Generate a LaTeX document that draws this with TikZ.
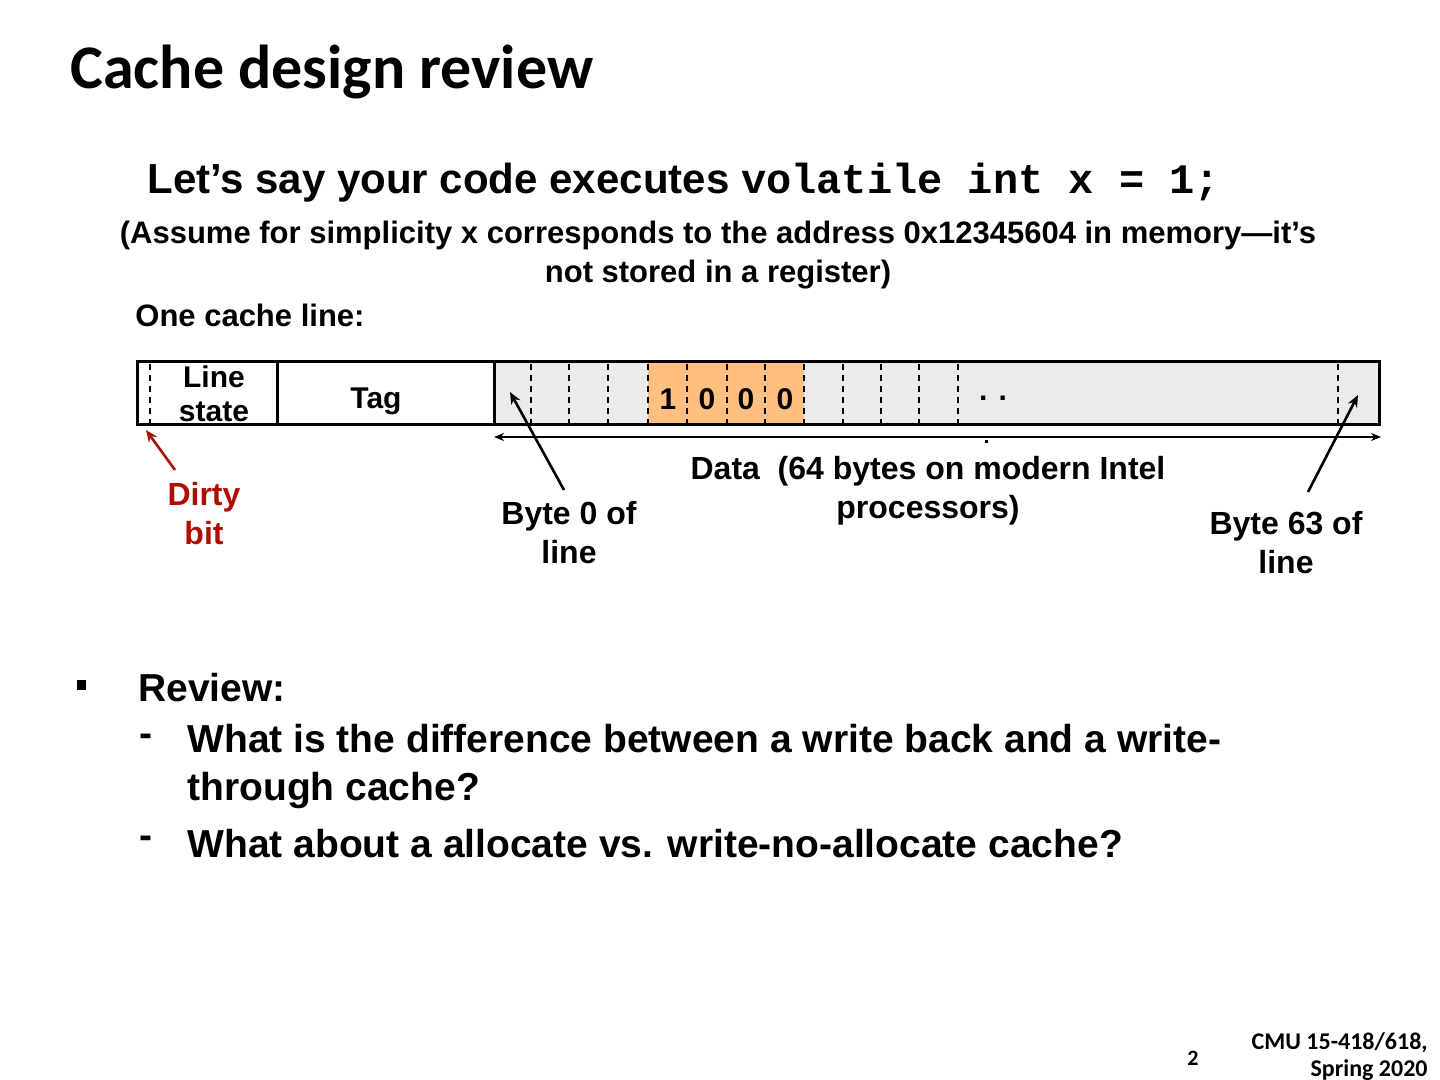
\documentclass[tikz,border=0pt]{standalone}
\usepackage{fontspec}
\usetikzlibrary{arrows.meta}
\setmainfont{Liberation Sans}
\newfontfamily\titlefont{Carlito}
\newfontfamily\codefont{Liberation Mono}
\begin{document}
\begin{tikzpicture}[x=0.5pt,y=-0.5pt,
  txt/.style={font=\bfseries\fontsize{15}{17}\selectfont, align=center, inner sep=0pt},
  dsh/.style={dashed, line width=1.2pt, dash pattern=on 3pt off 2.5pt},
  arr/.style={line width=1.3pt, -{Stealth[length=6pt,width=5pt]}}]
\useasboundingbox (0,0) rectangle (1440,1080);
\node[anchor=west, inner sep=0pt, font=\titlefont\bfseries\fontsize{31}{36}\selectfont] (title) at (70,72) {Cache design review};
\node[anchor=west, inner sep=0pt, font=\bfseries\fontsize{21}{25}\selectfont] (l1) at (147,183) {Let’s say your code executes \codefont\bfseries volatile int x = 1;};
\node[txt, font=\bfseries\fontsize{15.5}{19.5}\selectfont] (l2) at (718,255) {(Assume for simplicity x corresponds to the address 0x12345604 in memory—it’s\\not stored in a register)};
\node[txt, anchor=west, font=\bfseries\fontsize{15.5}{19}\selectfont] (l3) at (135,315) {One cache line:};
% line boxes
\fill[black!8] (494,362) rectangle (1379,425);
\fill[orange!50!white] (648,362) rectangle (804,425);
\foreach \x in {150,531,569,608,648,687,727,765,804,843,881,919,958,1338}
  \draw[dsh] (\x,364) -- (\x,423);
\draw[line width=1.5pt] (137,362) rectangle (1379,425);
\draw[line width=1.5pt] (277,362) -- (277,425) (494,362) -- (494,425);
\node[txt] (ls) at (214,394) {Line\\state};
\node[txt] (tag) at (376,401) {Tag};
\foreach \x/\t in {668/1,707/0,746/0,785/0} \node[txt, font=\bfseries\fontsize{15}{17}\selectfont] at (\x,399) {\t};
\node[txt] (dots) at (993,398) {. .};
\coordinate (al) at (494,437); \coordinate (ar) at (1381,437);
\draw[line width=1.3pt, {Stealth[length=5pt,width=4pt]}-{Stealth[length=5pt,width=4pt]}] (al) -- (ar);
\fill (985,440) rectangle (988,443);
% labels
\node[txt, text=red!65!black!90!orange, font=\bfseries\fontsize{16}{19.5}\selectfont] (dirty) at (204,514) {Dirty\\bit};
\coordinate (dt) at (175,470); \coordinate (dh) at (146,430);
\draw[arr, red!60!black!85!orange] (dt) -- (dh);
\node[txt, font=\bfseries\fontsize{16}{19.5}\selectfont] (b0) at (569,533) {Byte 0 of\\line};
\coordinate (b0t) at (564,490); \coordinate (b0h) at (510,392);
\draw[arr] (b0t) -- (b0h);
\node[txt, font=\bfseries\fontsize{16}{19.5}\selectfont] (data) at (928,491) {Data\ \ (64 bytes on modern Intel\\processors)};
\node[txt, font=\bfseries\fontsize{16}{19.5}\selectfont] (b63) at (1286,543) {Byte 63 of\\line};
\coordinate (b63t) at (1308,492); \coordinate (b63h) at (1358,395);
\draw[arr] (b63t) -- (b63h);
% review
\fill (77,680) rectangle (86,690);
\node[anchor=west, inner sep=0pt, font=\bfseries\fontsize{19.5}{24}\selectfont] (rev) at (138,688) {Review:};
\node[inner sep=0pt, font=\bfseries\fontsize{19.5}{24}\selectfont] at (146,740) {-};
\node[anchor=north west, align=left, inner sep=0pt, font=\bfseries\fontsize{19.5}{24}\selectfont] (q1) at (187,724) {What is the difference between a write back and a write-\\through cache?};
\node[inner sep=0pt, font=\bfseries\fontsize{19.5}{24}\selectfont] at (146,842) {-};
\node[anchor=west, inner sep=0pt, font=\bfseries\fontsize{19.5}{24}\selectfont] (q2) at (187,844) {What about a allocate vs. write-no-allocate cache?};
% footer
\node[inner sep=0pt, font=\titlefont\bfseries\fontsize{11}{13}\selectfont] (pg) at (1193,1058) {2};
\node[align=right, anchor=north east, inner sep=0pt, font=\titlefont\bfseries\fontsize{12}{13.5}\selectfont] (cmu) at (1428,1032) {CMU 15-418/618,\\Spring 2020};
\end{tikzpicture}
\end{document}
